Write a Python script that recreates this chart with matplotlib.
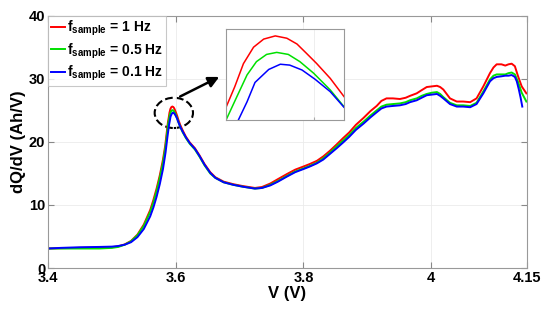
import matplotlib
matplotlib.use('Agg')
import matplotlib.pyplot as plt
from matplotlib.patches import Ellipse

plt.rcParams['font.family'] = 'Liberation Sans'
plt.rcParams['font.weight'] = 'bold'
plt.rcParams['mathtext.fontset'] = 'custom'
plt.rcParams['mathtext.bf'] = 'Liberation Sans:bold'
plt.rcParams['mathtext.rm'] = 'Liberation Sans:bold'

# dQ/dV curves
v_red = [3.40, 3.42, 3.45, 3.48, 3.50, 3.51, 3.52, 3.53, 3.54, 3.55, 3.56, 3.565, 3.57, 3.575, 3.58,
         3.5835, 3.586, 3.5878, 3.589, 3.5902, 3.5916, 3.593, 3.5946, 3.5962, 3.5976, 3.5989, 3.6003,
         3.6022, 3.6041, 3.607, 3.611, 3.616, 3.622, 3.630, 3.637, 3.645, 3.654, 3.662, 3.675, 3.690,
         3.705, 3.724, 3.735, 3.748, 3.760, 3.774, 3.787, 3.800, 3.810, 3.821, 3.831, 3.8415, 3.852,
         3.862, 3.8716, 3.882, 3.894, 3.905, 3.9146, 3.922, 3.930, 3.940, 3.951, 3.960, 3.9668, 3.9773,
         3.985, 3.993, 4.001, 4.009, 4.014, 4.019, 4.0294, 4.040, 4.050, 4.061, 4.071, 4.0816, 4.092,
         4.0975, 4.1025, 4.110, 4.116, 4.121, 4.126, 4.131, 4.136, 4.1417, 4.149]
red = [3.1, 3.15, 3.2, 3.25, 3.3, 3.45, 3.75, 4.3, 5.3, 6.9, 9.2, 10.8, 12.6, 14.7, 17.2,
       19.4, 21.6, 23.14, 23.85, 24.65, 25.22, 25.5, 25.61, 25.53, 25.33, 25.01, 24.66,
       24.14, 23.51, 22.7, 21.8, 20.8, 19.9, 19.0, 17.9, 16.5, 15.2, 14.4, 13.7, 13.3,
       13.0, 12.7, 12.85, 13.4, 14.1, 14.9, 15.6, 16.1, 16.5, 17.0, 17.7, 18.6, 19.6,
       20.6, 21.5, 22.7, 23.8, 24.9, 25.7, 26.5, 26.9, 26.9, 26.8, 27.0, 27.3, 27.7,
       28.2, 28.7, 28.8, 28.9, 28.7, 28.3, 26.9, 26.4, 26.4, 26.3, 26.9, 28.8, 30.9,
       31.8, 32.3, 32.3, 32.1, 32.3, 32.4, 32.0, 30.4, 28.8, 27.7]

v_green = [3.40, 3.42, 3.45, 3.48, 3.50, 3.51, 3.52, 3.53, 3.54, 3.55, 3.56, 3.565, 3.57, 3.575, 3.58,
           3.584, 3.5865, 3.5878, 3.5893, 3.5907, 3.592, 3.5934, 3.5948, 3.5964, 3.598, 3.5999,
           3.6022, 3.6041, 3.607, 3.611, 3.616, 3.622, 3.630, 3.637, 3.645, 3.654, 3.662, 3.675,
           3.690, 3.705, 3.724, 3.735, 3.748, 3.760, 3.774, 3.787, 3.800, 3.810, 3.821, 3.831,
           3.8415, 3.852, 3.862, 3.8716, 3.882, 3.894, 3.905, 3.9146, 3.922, 3.930, 3.940, 3.951,
           3.960, 3.9668, 3.9773, 3.985, 3.993, 4.001, 4.009, 4.014, 4.019, 4.0294, 4.040, 4.050,
           4.061, 4.071, 4.0816, 4.092, 4.0975, 4.1025, 4.110, 4.116, 4.121, 4.126, 4.131, 4.136,
           4.1417, 4.149]
green = [3.1, 3.1, 3.1, 3.1, 3.2, 3.35, 3.7, 4.25, 5.2, 6.7, 8.9, 10.4, 12.2, 14.3, 16.7,
         19.3, 21.4, 22.7, 23.51, 24.26, 24.72, 24.97, 25.04, 24.97, 24.72, 24.32,
         23.74, 23.16, 22.4, 21.5, 20.6, 19.7, 18.8, 17.7, 16.3, 15.0, 14.3, 13.6,
         13.2, 12.9, 12.6, 12.7, 13.2, 13.8, 14.6, 15.3, 15.8, 16.2, 16.7, 17.4,
         18.3, 19.3, 20.2, 21.1, 22.2, 23.2, 24.2, 25.0, 25.6, 25.9, 26.0, 26.1,
         26.3, 26.6, 26.9, 27.3, 27.6, 27.8, 27.9, 27.6, 27.1, 26.2, 25.8, 25.8,
         25.7, 26.2, 28.0, 29.9, 30.5, 30.7, 30.7, 30.7, 30.9, 31.0, 30.7, 29.5,
         27.8, 26.4]

v_blue = [3.40, 3.42, 3.45, 3.48, 3.50, 3.51, 3.52, 3.53, 3.54, 3.55, 3.56, 3.565, 3.57, 3.575, 3.58,
          3.584, 3.587, 3.5895, 3.5907, 3.5918, 3.5937, 3.5953, 3.5966, 3.5983, 3.6001, 3.6022,
          3.6041, 3.607, 3.611, 3.616, 3.622, 3.630, 3.637, 3.645, 3.654, 3.662, 3.675, 3.690,
          3.705, 3.724, 3.735, 3.748, 3.760, 3.774, 3.787, 3.800, 3.810, 3.821, 3.831, 3.8415,
          3.852, 3.862, 3.8716, 3.882, 3.894, 3.905, 3.9146, 3.922, 3.930, 3.940, 3.951, 3.960,
          3.9668, 3.9773, 3.985, 3.993, 4.001, 4.009, 4.014, 4.019, 4.0294, 4.040, 4.050, 4.061,
          4.071, 4.0816, 4.092, 4.0975, 4.1025, 4.110, 4.116, 4.121, 4.126, 4.131, 4.134, 4.137,
          4.140, 4.1426]
blue = [3.1, 3.2, 3.3, 3.35, 3.4, 3.5, 3.7, 4.1, 4.9, 6.2, 8.2, 9.6, 11.3, 13.3, 15.7,
        18.3, 20.8, 22.7, 23.33, 24.0, 24.45, 24.63, 24.6, 24.43, 24.11, 23.68,
        23.14, 22.4, 21.6, 20.7, 19.8, 18.9, 17.8, 16.4, 15.1, 14.3, 13.6, 13.2,
        12.9, 12.6, 12.7, 13.1, 13.7, 14.5, 15.2, 15.7, 16.1, 16.6, 17.2, 18.1,
        19.0, 19.9, 20.8, 21.9, 22.9, 23.9, 24.7, 25.3, 25.6, 25.7, 25.8, 26.0,
        26.3, 26.6, 27.0, 27.4, 27.5, 27.6, 27.3, 26.9, 26.0, 25.6, 25.6, 25.5,
        26.0, 27.7, 29.6, 30.1, 30.3, 30.4, 30.5, 30.5, 30.6, 30.3, 29.6, 28.4,
        27.0, 25.6]

labels = [r'$\mathbf{f}_{\mathbf{sample}}$ = 1 Hz',
          r'$\mathbf{f}_{\mathbf{sample}}$ = 0.5 Hz',
          r'$\mathbf{f}_{\mathbf{sample}}$ = 0.1 Hz']
colors = ['#ff0000', '#00e000', '#0000ff']
series = [(v_red, red), (v_green, green), (v_blue, blue)]

fig = plt.figure(figsize=(5.5, 3.15), dpi=100)
ax = fig.add_axes([0.0873, 0.149, 0.8709, 0.801])
for (v, q), c, lab in zip(series, colors, labels):
    ax.plot(v, q, color=c, lw=1.4, label=lab)

ax.set_xlim(3.4, 4.15)
ax.set_ylim(0, 40)
ax.set_xticks([3.4, 3.6, 3.8, 4.0, 4.15])
ax.set_xticklabels(['3.4', '3.6', '3.8', '4', '4.15'])
ax.set_yticks([0, 10, 20, 30, 40])
ax.tick_params(direction='in', length=4, color='#888888', labelsize=10.5, pad=2,
               top=True, right=True)
for s in ax.spines.values():
    s.set_color('#999999')
ax.grid(True, color='#ebebeb', lw=0.6)
ax.set_xlabel('V (V)', fontsize=12, fontweight='bold', labelpad=1)
ax.set_ylabel('dQ/dV (Ah/V)', fontsize=12, fontweight='bold', labelpad=2)

leg = ax.legend(loc='upper left', fontsize=10, handlelength=1.0, handletextpad=0.2,
                borderaxespad=0, borderpad=0.2, labelspacing=0.25, fancybox=False)
leg.get_frame().set_edgecolor('#bbbbbb')
leg.get_frame().set_linewidth(0.8)

# dashed circle around the peak and arrow to the zoom box
ax.add_patch(Ellipse((3.597, 24.6), 0.06, 4.8, fill=False, ls='--', lw=1.5, color='k'))
ax.annotate('', xy=(3.672, 30.5), xytext=(3.603, 27.0),
            arrowprops=dict(arrowstyle='-|>', lw=1.8, color='k', mutation_scale=16))

ins = fig.add_axes([0.411, 0.619, 0.2145, 0.289])
for (v, q), c in zip(series, colors):
    ins.plot(v, q, color=c, lw=1.1)
ins.set_xlim(3.5878, 3.6041)
ins.set_ylim(22.7, 25.85)
ins.set_xticks([3.6])
ins.set_yticks([])
ins.tick_params(direction='in', length=2, color='#aaaaaa', labelbottom=False)
ins.grid(True, axis='x', color='#ebebeb', lw=0.6)
for s in ins.spines.values():
    s.set_color('#999999')

fig.savefig('out.png', dpi=100)
